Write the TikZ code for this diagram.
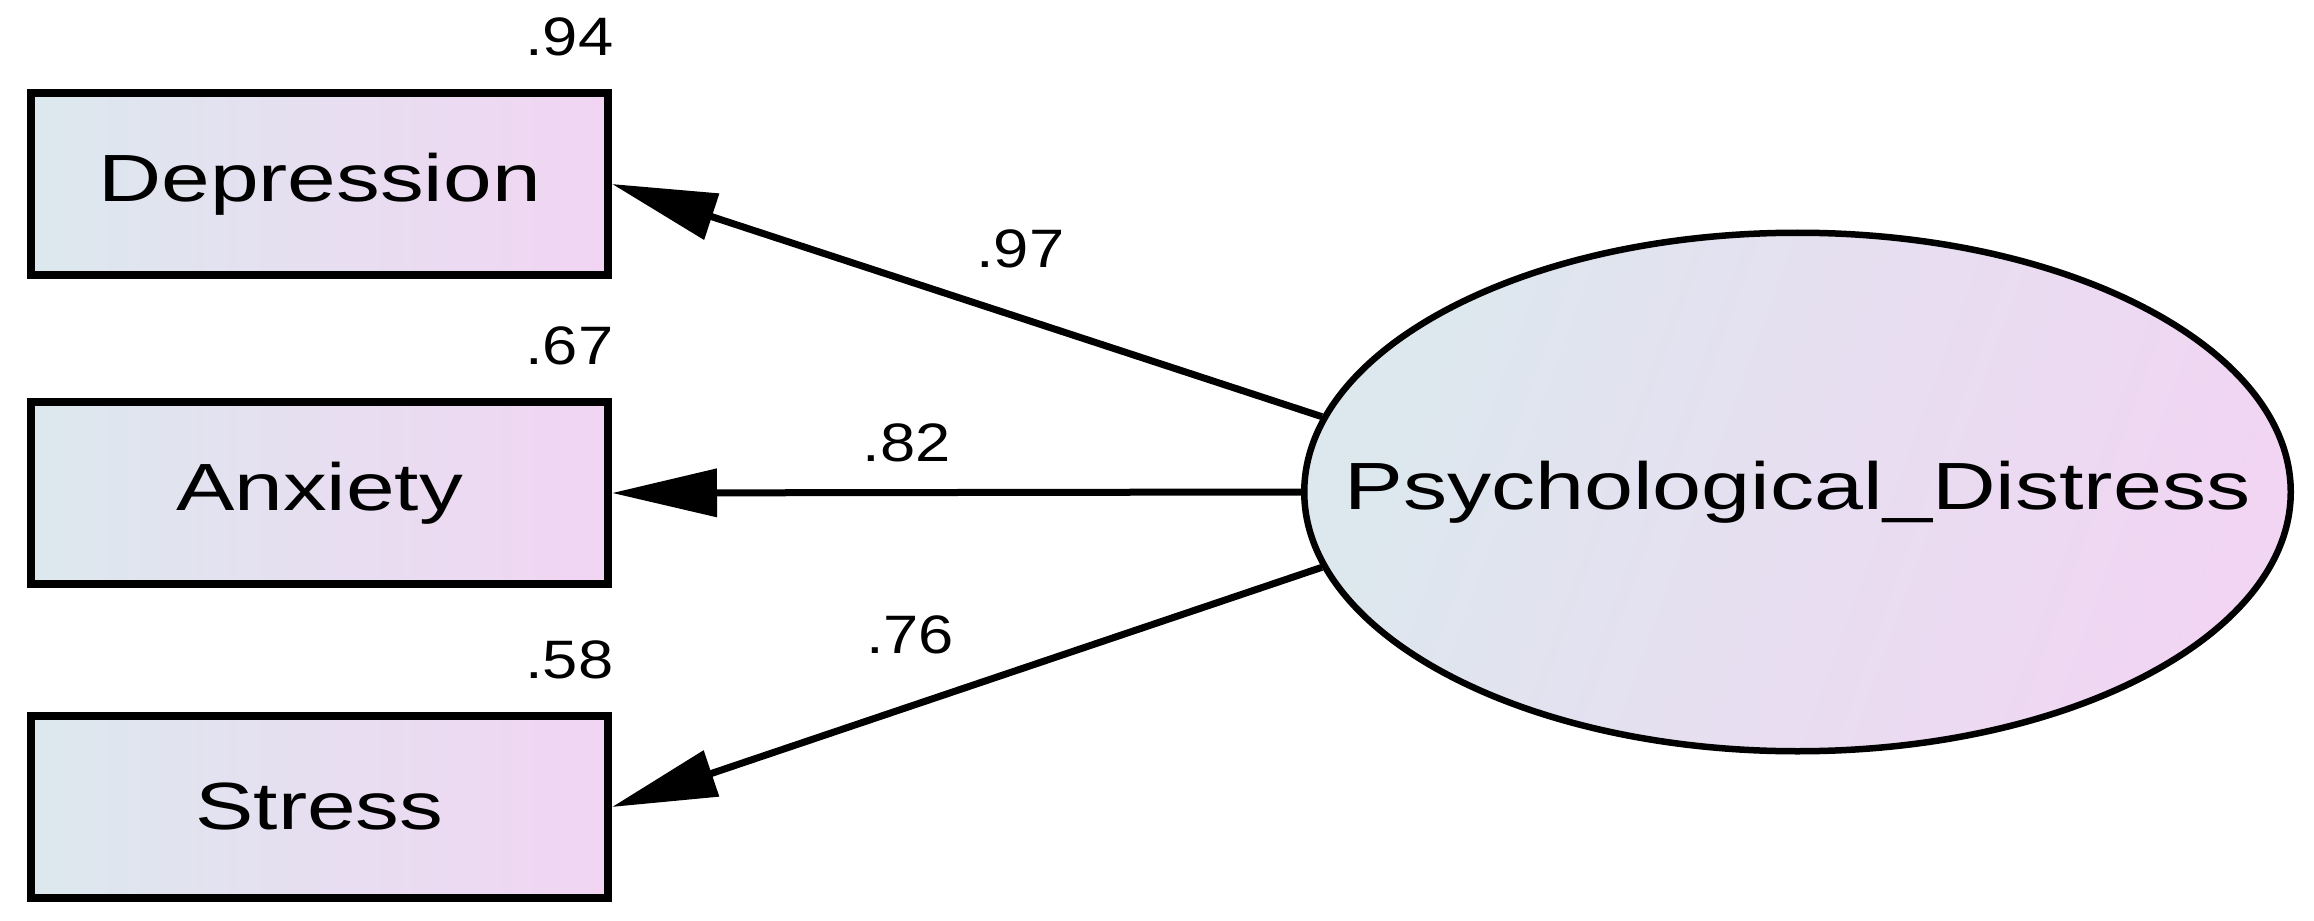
\documentclass[tikz,border=0pt]{standalone}
\usepackage{fontspec}
\setmainfont{Liberation Sans}
\usetikzlibrary{shapes.geometric}
\usetikzlibrary{arrows.meta}
\definecolor{fillleft}{RGB}{220,232,238}
\definecolor{fillright}{RGB}{241,213,243}
\newcommand{\widetxt}[2][1.31]{\scalebox{#1}[1]{#2}}

\begin{document}
\begin{tikzpicture}[
	obs/.style={draw=black, line width=0.08cm, left color=fillleft, right color=fillright, minimum width=5.77cm, minimum height=1.82cm, inner sep=0pt, font=\fontsize{19}{23}\selectfont},
	lat/.style={ellipse, draw=black, line width=0.065cm, left color=fillleft, right color=fillright, shading angle=70, minimum width=9.865cm, minimum height=5.185cm, inner sep=0pt, font=\fontsize{19}{23}\selectfont},
	coef/.style={inner sep=0pt, font=\fontsize{15.4}{18}\selectfont},
	load/.style={line width=0.07cm, -{Triangle[length=1.05cm, width=0.47cm]}}
]

	\useasboundingbox (0,0) rectangle (23.14,9.2);

	\node[obs] (dep) at (3.195,7.36) {\widetxt{Depression}};
	\node[obs] (anx) at (3.195,4.27) {\widetxt{Anxiety}};
	\node[obs] (str) at (3.195,1.13) {\widetxt{Stress}};
	\node[lat] (dist) at (17.975,4.28) {\makebox[0pt]{\widetxt[1.32]{Psychological\_Distress}}};

	\node[coef, anchor=south east] (r1) at ([xshift=0.02cm, yshift=0.32cm]dep.north east) {\widetxt[1.17]{.94}};
	\node[coef, anchor=south east] (r2) at ([xshift=0.02cm, yshift=0.32cm]anx.north east) {\widetxt[1.17]{.67}};
	\node[coef, anchor=south east] (r3) at ([xshift=0.02cm, yshift=0.32cm]str.north east) {\widetxt[1.17]{.58}};

	\draw[load] (dist.171) -- (dep.east) node[coef, pos=0.425, above=0.46cm] (w1) {\widetxt[1.17]{.97}};
	\draw[load] (dist.180) -- (anx.east) node[coef, pos=0.572, above=0.27cm] (w2) {\widetxt[1.17]{.82}};
	\draw[load] (dist.189) -- (str.east) node[coef, pos=0.58, above=0.49cm] (w3) {\widetxt[1.17]{.76}};

\end{tikzpicture}
\end{document}
